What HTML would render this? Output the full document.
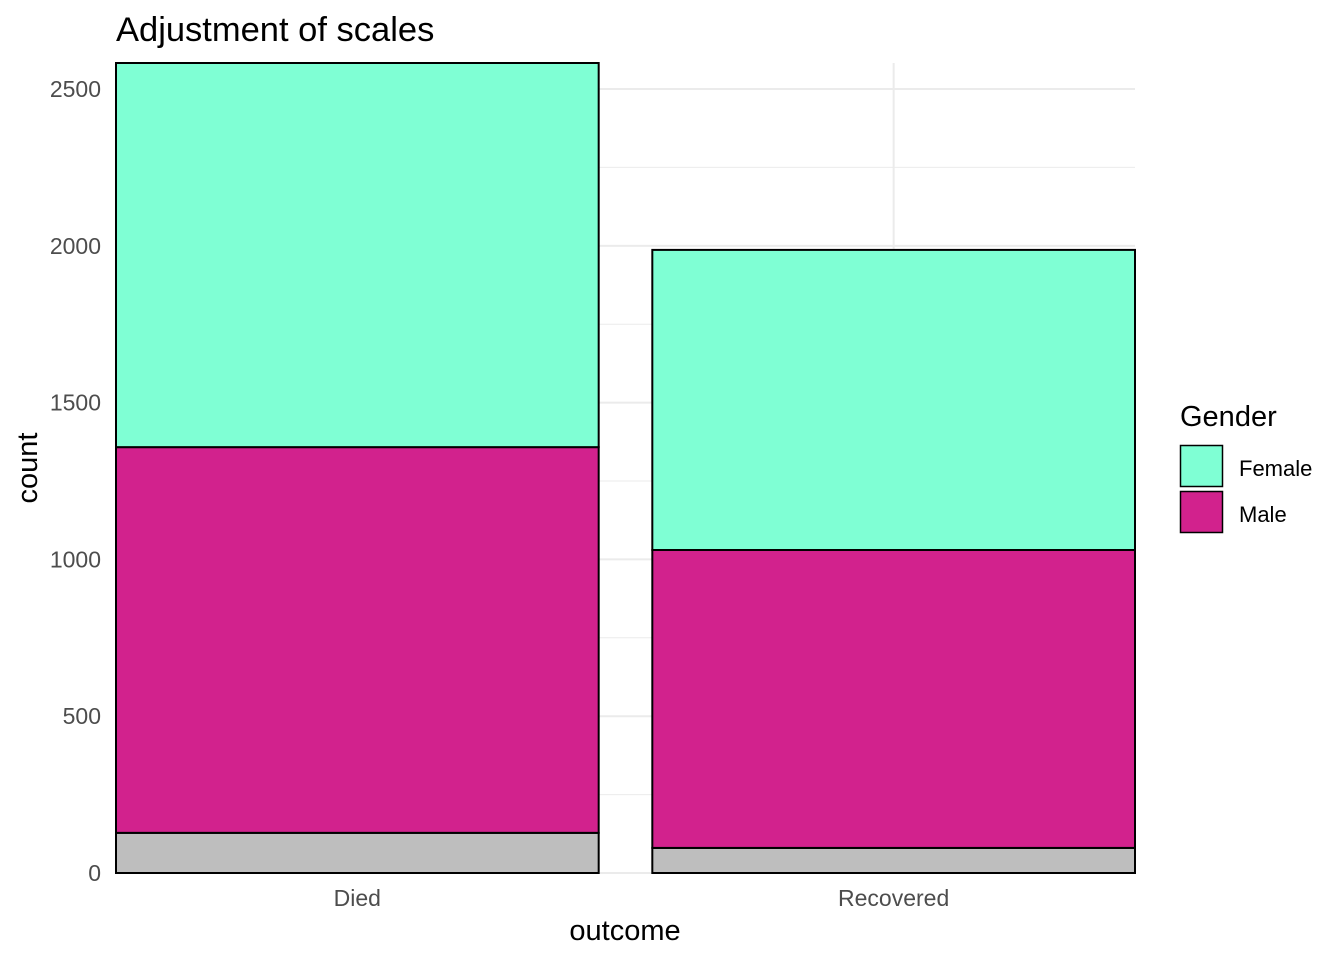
<!DOCTYPE html>
<html><head><meta charset="utf-8"><style>
body{margin:0;background:#fff;}
svg{display:block;font-family:"Liberation Sans",Arial,sans-serif;}
</style></head><body>
<svg id="chart" width="1344" height="960">
<text x="116" y="41" font-size="34.5" fill="#000">Adjustment of scales</text>
<g id="grid"></g>
<g id="bars"></g>
<g id="yticks"></g>
<g id="xticks"></g>
<text x="625" y="940" font-size="29" text-anchor="middle" fill="#000">outcome</text>
<text transform="translate(37,468) rotate(-90)" font-size="29" text-anchor="middle" fill="#000">count</text>
<g>
<text x="1180" y="426" font-size="29" fill="#000">Gender</text>
<rect x="1180.5" y="445.5" width="42" height="41" fill="#7FFFD4" stroke="#000" stroke-width="1.5"/>
<text x="1239" y="476" font-size="22" fill="#000">Female</text>
<rect x="1180.5" y="491.5" width="42" height="41" fill="#D2228D" stroke="#000" stroke-width="1.5"/>
<text x="1239" y="522" font-size="22" fill="#000">Male</text>
</g>
</svg>
<script>
const categories = ["Died", "Recovered"];
const naValues = [128, 80];
const maleValues = [1230, 950];
const femaleValues = [1225, 957];
const yTicks = [0, 500, 1000, 1500, 2000, 2500];
const yMinor = [250, 750, 1250, 1750, 2250];

const NS = "http://www.w3.org/2000/svg";
const yMax = Math.max(...categories.map((c,i)=>naValues[i]+maleValues[i]+femaleValues[i]));
const plotTop = 63, plotBottom = 873, plotLeft = 116, plotRight = 1135;
const y = v => plotBottom - v / yMax * (plotBottom - plotTop);
const bandW = (plotRight - plotLeft) / (categories.length - 1 + 0.9);
const xc = i => plotLeft + bandW * 0.45 + i * bandW;
function mk(tag, attrs, parent){const e=document.createElementNS(NS,tag);for(const k in attrs)e.setAttribute(k,attrs[k]);parent.appendChild(e);return e;}
const grid=document.getElementById('grid'), bars=document.getElementById('bars');
yMinor.forEach(v=>{const l=mk('line',{x1:plotLeft,x2:plotRight,y1:y(v),y2:y(v),stroke:'#ebebeb','stroke-width':1},grid);

});
yTicks.forEach(v=>{const l=mk('line',{x1:plotLeft,x2:plotRight,y1:y(v),y2:y(v),stroke:'#ebebeb','stroke-width':2},grid);


const t=mk('text',{x:101,y:y(v)+8,'font-size':23,fill:'#4d4d4d','text-anchor':'end'},document.getElementById('yticks'));t.textContent=v;

});
categories.forEach((c,i)=>{
  const l=mk('line',{x1:xc(i),x2:xc(i),y1:plotTop,y2:plotBottom,stroke:'#ebebeb','stroke-width':2},grid);
  
  
  const t=mk('text',{x:xc(i),y:906,'font-size':23,fill:'#4d4d4d','text-anchor':'middle'},document.getElementById('xticks'));t.textContent=c;
  
  
  const segs=[[naValues[i],'#BEBEBE','na'],[maleValues[i],'#D2228D','male'],[femaleValues[i],'#7FFFD4','female']];
  let base=0;
  segs.forEach(s=>{
    const r=mk('rect',{x:xc(i)-bandW*0.45,width:bandW*0.9,y:y(base+s[0]),height:y(base)-y(base+s[0]),fill:s[1],stroke:'#000','stroke-width':2},bars);
    
    
    base+=s[0];
  });
});
</script>
</body></html>
